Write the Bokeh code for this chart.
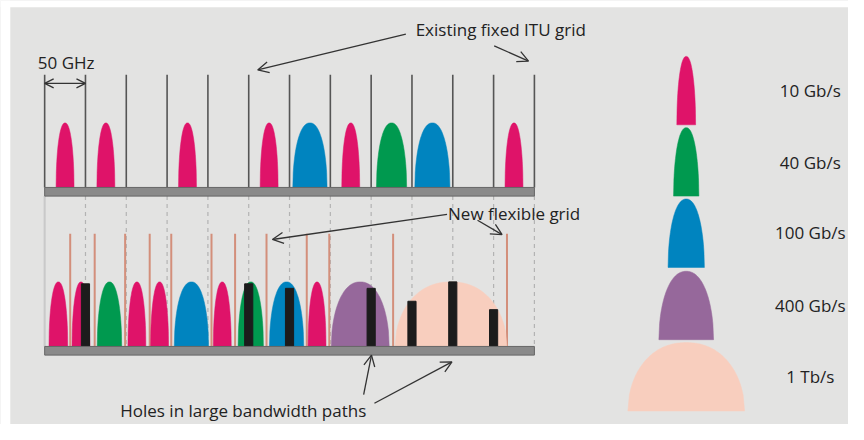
import numpy as np
from bokeh.plotting import figure
from bokeh.models import Range1d, ColumnDataSource, Arrow, OpenHead
from bokeh.core.properties import value
from bokeh.embed import file_html
from bokeh.resources import INLINE

# ---------------- data (x in GHz, 50 GHz ITU slots) ----------------
grid_ghz = [0, 50, 100, 150, 200, 250, 300, 350, 400, 450, 500, 550, 600]

top_center = [25, 75, 175, 275, 325, 375, 425, 475, 575]
top_rate = ["10 Gb/s", "10 Gb/s", "10 Gb/s", "10 Gb/s", "100 Gb/s",
            "10 Gb/s", "40 Gb/s", "100 Gb/s", "10 Gb/s"]
top_width = [22, 22, 22, 22, 42, 22, 37, 43, 22]

low_center = [16.8, 44.5, 79.4, 113, 140.8, 179.8, 217.6, 252.5, 296.4, 333.7, 386.6, 497.8]
low_rate = ["10 Gb/s", "10 Gb/s", "40 Gb/s", "10 Gb/s", "10 Gb/s", "100 Gb/s",
            "10 Gb/s", "40 Gb/s", "100 Gb/s", "10 Gb/s", "400 Gb/s", "1 Tb/s"]
low_width = [23, 22, 30, 22, 22, 42, 22, 31, 42, 22, 71, 137]

flex_ghz = [31.3, 61.3, 98.6, 128.7, 155.1, 204.4, 233.3, 271.8, 321.1, 348.7, 426.9, 566.4]

hole_ghz = [50, 250, 300, 400, 450, 500, 550]
hole_level = [0.97, 0.97, 0.90, 0.90, 0.70, 1.0, 0.57]

legend_rate = ["10 Gb/s", "40 Gb/s", "100 Gb/s", "400 Gb/s", "1 Tb/s"]
legend_width = [23, 31, 44.5, 67, 143]

rate_color = {
    "10 Gb/s": "#df1369",
    "40 Gb/s": "#00994f",
    "100 Gb/s": "#0084bf",
    "400 Gb/s": "#96689b",
    "1 Tb/s": "#f8cebe",
}

# ---------------- layout (vertical in picture pixels) ----------------
PULSE_H = 67
TOP_BASE, TOP_BAR_B, GRID_TOP = 194, 203, 77
LOW_BASE, LOW_BAR_B, FLEX_TOP = 359, 368, 242
LEG_X, LEG_LABEL_X = 786, 938
LEG_BASES = [129, 203, 277, 352, 426]
LEG_H = 71
FONT = value("Open Sans")
FS = "17px"
X_MIN, X_MAX = -54.1, 984.8


def pulse(c, w, base, h, n=80):
    u = np.linspace(-1, 1, n)
    f = np.clip(1 - np.abs(u) ** 2.2, 0, 1) ** 0.5
    xs = list(c + u * w / 2)
    ys = list(base - h * f)
    return xs, ys


p = figure(width=848, height=424, x_range=Range1d(X_MIN, X_MAX), y_range=Range1d(440, 0),
           output_backend="svg", toolbar_location=None, min_border=0)
p.axis.visible = False
p.grid.visible = False
p.outline_line_color = None
p.background_fill_color = "#e3e3e2"
p.border_fill_color = "#e3e3e2"

# white page strips (top and left)
p.quad(left=[X_MIN, X_MIN], right=[X_MAX, -42.1], top=[0, 0], bottom=[7, 440],
       fill_color="white", line_color=None)

# lower dashed references to the fixed grid
p.segment(x0=grid_ghz[:1], y0=TOP_BAR_B, x1=grid_ghz[:1], y1=LOW_BASE,
          line_color="#c9c9c9", line_width=2)
p.segment(x0=grid_ghz[1:], y0=TOP_BAR_B, x1=grid_ghz[1:], y1=LOW_BASE,
          line_color="#b3b3b3", line_width=1.2, line_dash="4 4")

# fixed grid lines (top)
p.segment(x0=grid_ghz, y0=GRID_TOP, x1=grid_ghz, y1=TOP_BASE,
          line_color="#555555", line_width=1.6)

# flexible grid lines (bottom)
p.segment(x0=flex_ghz, y0=FLEX_TOP, x1=flex_ghz, y1=LOW_BASE,
          line_color="#d38f7b", line_width=2)

# channels
xs, ys, cs = [], [], []
for c, w, r in zip(top_center, top_width, top_rate):
    a, b = pulse(c, w, TOP_BASE, PULSE_H)
    xs.append(a); ys.append(b); cs.append(rate_color[r])
for c, w, r in zip(low_center, low_width, low_rate):
    a, b = pulse(c, w, LOW_BASE, PULSE_H)
    xs.append(a); ys.append(b); cs.append(rate_color[r])
for w, r, base in zip(legend_width, legend_rate, LEG_BASES):
    a, b = pulse(LEG_X, w, base, LEG_H)
    xs.append(a); ys.append(b); cs.append(rate_color[r])
p.patches(xs, ys, fill_color=cs, line_color=cs, line_width=0.5)

# holes
p.vbar(x=hole_ghz, width=10, bottom=LOW_BASE,
       top=[LOW_BASE - PULSE_H * h for h in hole_level],
       fill_color="#1c1c1c", line_color="#1c1c1c")

# fibre bars
p.quad(left=[0, 0], right=[600, 600], top=[TOP_BASE, LOW_BASE], bottom=[TOP_BAR_B, LOW_BAR_B],
       fill_color="#8a8a8a", line_color="#666666", line_width=1)

# arrows
arrows = [
    ((442.5, 35), (261, 72)),
    ((550.7, 47), (592.8, 63)),
    ((493, 222), (279, 248)),
    ((530.3, 228), (560.4, 243)),
    ((390.8, 409), (400.4, 368)),
    ((404, 418), (499, 375)),
]
for (x0, y0), (x1, y1) in arrows:
    p.add_layout(Arrow(x_start=x0, y_start=y0, x_end=x1, y_end=y1,
                       line_color="#333333", line_width=1.3,
                       end=OpenHead(size=11, line_color="#333333", line_width=1.3)))
p.add_layout(Arrow(x_start=0, y_start=86, x_end=50, y_end=86,
                   line_color="#333333", line_width=1.3,
                   start=OpenHead(size=9, line_color="#333333", line_width=1.3),
                   end=OpenHead(size=9, line_color="#333333", line_width=1.3)))

# annotation texts
ann = ColumnDataSource(dict(
    x=[-8.4, 454.5, 494.2, 92.6],
    y=[64, 30, 221, 425],
    t=["50 GHz", "Existing fixed ITU grid", "New flexible grid", "Holes in large bandwidth paths"],
))
p.text(x="x", y="y", text="t", source=ann, text_font=FONT, text_font_size=FS,
       text_color="#222222", text_align="left", text_baseline="middle")

leg = ColumnDataSource(dict(
    x=[LEG_LABEL_X] * len(legend_rate),
    y=[93, 168, 241, 316, 390],
    t=legend_rate,
))
p.text(x="x", y="y", text="t", source=leg, text_font=FONT, text_font_size=FS,
       text_color="#222222", text_align="center", text_baseline="middle")

open("out.html", "w").write(file_html(p, INLINE))
